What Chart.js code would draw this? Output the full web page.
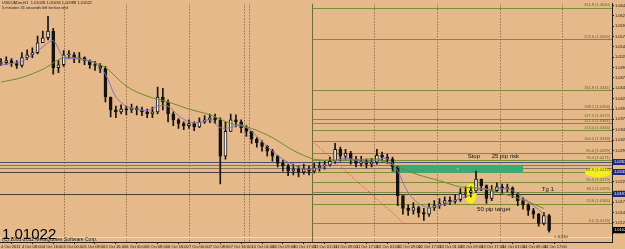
<!DOCTYPE html>
<html>
<head>
<meta charset="utf-8">
<script src="https://cdn.jsdelivr.net/npm/chart.js@4"></script>
<style>
  html, body { margin: 0; padding: 0; background: #e6b98a; }
  canvas { display: block; background: #e6b98a; }
</style>
</head>
<body>
<canvas id="chart" width="625" height="249"></canvas>
<script>
// USDCAD candles, one per 2 hours from 4 Oct 2011 00:00
const firstOpen = 1.0505;
const closes = [
  1.0507, 1.0512, 1.0505, 1.0500, 1.0519, 1.0526, 1.0531, 1.0555, 1.0567, 1.0583,
  1.0495, 1.0502, 1.0526, 1.0526, 1.0517, 1.0519, 1.0512, 1.0502, 1.0500, 1.0493,
  1.0424, 1.0393, 1.0388, 1.0395, 1.0393, 1.0398, 1.0393, 1.0388, 1.0383, 1.0388,
  1.0424, 1.0412, 1.0383, 1.0369, 1.0360, 1.0355, 1.0360, 1.0352, 1.0364, 1.0369,
  1.0374, 1.0369, 1.0281, 1.0341, 1.0369, 1.0364, 1.0350, 1.0341, 1.0322, 1.0314,
  1.0305, 1.0293, 1.0281, 1.0264, 1.0257, 1.0245, 1.0250, 1.0243, 1.0250, 1.0245,
  1.0253, 1.0257, 1.0260, 1.0269, 1.0298, 1.0281, 1.0288, 1.0274, 1.0264, 1.0269,
  1.0262, 1.0267, 1.0283, 1.0279, 1.0274, 1.0255, 1.0186, 1.0155, 1.0150, 1.0157,
  1.0145, 1.0141, 1.0157, 1.0162, 1.0167, 1.0174, 1.0172, 1.0176, 1.0191, 1.0193,
  1.0198, 1.0226, 1.0210, 1.0179, 1.0198, 1.0207, 1.0203, 1.0205, 1.0191, 1.0174,
  1.0164, 1.0150, 1.0141, 1.0119, 1.0138, 1.0102
];
const highs = [
  1.0517, 1.0521, 1.0517, 1.0512, 1.0531, 1.0538, 1.0543, 1.0571, 1.0583, 1.0619,
  1.0590, 1.0512, 1.0536, 1.0536, 1.0531, 1.0531, 1.0521, 1.0514, 1.0510, 1.0505,
  1.0498, 1.0424, 1.0402, 1.0405, 1.0402, 1.0407, 1.0402, 1.0400, 1.0395, 1.0400,
  1.0448, 1.0445, 1.0417, 1.0388, 1.0372, 1.0364, 1.0369, 1.0364, 1.0374, 1.0379,
  1.0383, 1.0383, 1.0374, 1.0364, 1.0383, 1.0381, 1.0369, 1.0355, 1.0341, 1.0326,
  1.0319, 1.0307, 1.0298, 1.0283, 1.0272, 1.0262, 1.0262, 1.0257, 1.0262, 1.0257,
  1.0264, 1.0267, 1.0269, 1.0279, 1.0312, 1.0303, 1.0298, 1.0293, 1.0281, 1.0281,
  1.0274, 1.0276, 1.0298, 1.0291, 1.0286, 1.0279, 1.0257, 1.0186, 1.0164, 1.0169,
  1.0160, 1.0155, 1.0167, 1.0174, 1.0179, 1.0183, 1.0183, 1.0188, 1.0203, 1.0207,
  1.0207, 1.0245, 1.0226, 1.0212, 1.0210, 1.0217, 1.0214, 1.0214, 1.0207, 1.0193,
  1.0181, 1.0167, 1.0155, 1.0143, 1.0145, 1.0141
];
const lows = [
  1.0500, 1.0502, 1.0498, 1.0493, 1.0496, 1.0514, 1.0519, 1.0528, 1.0555, 1.0562,
  1.0479, 1.0483, 1.0498, 1.0517, 1.0507, 1.0507, 1.0502, 1.0493, 1.0488, 1.0483,
  1.0412, 1.0376, 1.0374, 1.0383, 1.0381, 1.0386, 1.0381, 1.0379, 1.0374, 1.0374,
  1.0383, 1.0393, 1.0364, 1.0355, 1.0348, 1.0345, 1.0348, 1.0343, 1.0350, 1.0360,
  1.0362, 1.0360, 1.0214, 1.0274, 1.0341, 1.0352, 1.0338, 1.0329, 1.0312, 1.0303,
  1.0293, 1.0281, 1.0269, 1.0255, 1.0245, 1.0234, 1.0236, 1.0231, 1.0238, 1.0236,
  1.0241, 1.0245, 1.0250, 1.0257, 1.0264, 1.0269, 1.0274, 1.0262, 1.0255, 1.0257,
  1.0253, 1.0255, 1.0262, 1.0269, 1.0264, 1.0245, 1.0162, 1.0141, 1.0138, 1.0141,
  1.0134, 1.0126, 1.0136, 1.0150, 1.0155, 1.0162, 1.0164, 1.0167, 1.0172, 1.0181,
  1.0183, 1.0193, 1.0198, 1.0167, 1.0174, 1.0195, 1.0193, 1.0195, 1.0181, 1.0162,
  1.0153, 1.0138, 1.0131, 1.0112, 1.0115, 1.0098
];

const fastMA = [
  1.0502, 1.0505, 1.0510, 1.0526, 1.0545, 1.0560, 1.0519, 1.0517, 1.0514, 1.0507,
  1.0479, 1.0424, 1.0402, 1.0395, 1.0391, 1.0402, 1.0402, 1.0379, 1.0364, 1.0362,
  1.0369, 1.0350, 1.0350, 1.0357, 1.0341, 1.0317, 1.0293, 1.0274, 1.0260, 1.0250,
  1.0250, 1.0255, 1.0269, 1.0276, 1.0272, 1.0267, 1.0272, 1.0276, 1.0245, 1.0193,
  1.0167, 1.0157, 1.0162, 1.0169, 1.0179, 1.0188, 1.0203, 1.0200, 1.0203, 1.0198,
  1.0181, 1.0162, 1.0141
];
const slowMA = [
  1.0460, 1.0471, 1.0491, 1.0519, 1.0514, 1.0495, 1.0450, 1.0426, 1.0412, 1.0395,
  1.0381, 1.0360, 1.0348, 1.0326, 1.0295, 1.0274, 1.0272, 1.0272, 1.0274, 1.0255,
  1.0236, 1.0222, 1.0207, 1.0203, 1.0191, 1.0176, 1.0155
];

const timeBars = [0, 4, 8, 12, 16, 20, 24, 28, 32, 36, 40, 44, 48, 52, 56, 60, 64, 68, 72, 76, 80, 84, 88, 92, 96, 100, 104];
const timeLabels = [
  '4 Oct 2011', '4 Oct 08:00', '4 Oct 16:00', '5 Oct 00:00', '5 Oct 08:00', '5 Oct 16:00',
  '6 Oct 00:00', '6 Oct 08:00', '6 Oct 16:00', '7 Oct 00:00', '7 Oct 08:00', '7 Oct 16:00',
  '10 Oct 01:00', '10 Oct 09:00', '10 Oct 17:00', '11 Oct 01:00', '11 Oct 09:00', '11 Oct 17:00',
  '12 Oct 01:00', '12 Oct 09:00', '12 Oct 17:00', '13 Oct 01:00', '13 Oct 09:00', '13 Oct 17:00',
  '14 Oct 01:00', '14 Oct 09:00', '14 Oct 17:00'
];
const priceTicks = [
  1.0645, 1.0620, 1.0595, 1.0570, 1.0545, 1.0520, 1.0495, 1.0470, 1.0445, 1.0420, 1.0395, 1.0370,
  1.0345, 1.0320, 1.0295, 1.0270, 1.0245, 1.0220, 1.0195, 1.0170, 1.0145, 1.0120, 1.0095
];

const separatorBars = [12, 24, 36, 46.5, 47.5, 71.5, 83.5, 95.5, 107.5];
const hLinePrices = [1.0267, 1.0260, 1.0253, 1.0243, 1.0191, 1.0086];
const hLineColors = ['#4a5470', '#8a7560', '#8a7560', '#4e4038', '#4e4038', '#f2dcb8'];

const fibStartBar = 59.6;
const fibLevels = ['0.0', '23.6', '38.2', '50.0', '61.8', '76.4', '85.4', '100.0', '113.0', '121.4', '127.2', '138.2', '161.8', '223.6', '261.8'];
const fibPrices = [1.0119, 1.0166, 1.0195, 1.0219, 1.0242, 1.0271, 1.0289, 1.0318, 1.0344, 1.0361, 1.0372, 1.0394, 1.0441, 1.0564, 1.0640];
const fibTrendBars = [59.6, 77.2];
const fibTrendPrices = [1.0318, 1.0119];

const zoneBars = [75.1, 100];
const zonePrices = [1.0260, 1.0241];
const markBars = [90, 114.4];
const markPrices = [1.0191, 1.0242];

const noteTexts = ['Stop', '25 pip risk', 'Tg 1', '50 pip target', '< 0.010'];
const noteBars = [89.4, 94.0, 103.6, 91.2, 106.0];
const notePrices = [1.0280, 1.0280, 1.0202, 1.0152, 1.0087];

const axisMarkPrices = [1.0267, 1.0243, 1.0191];
const lastPrice = 1.0102;

const FONT = 'Liberation Sans, Arial, sans-serif';

const opens = closes.map((c, i) => i === 0 ? firstOpen : closes[i - 1]);
const wicks = closes.map((c, i) => ({ x: i, y: [lows[i], highs[i]] }));
const bodies = closes.map((c, i) => ({ x: i, y: [opens[i], c] }));
const bodyColors = closes.map((c, i) => c >= opens[i] ? '#f6efe4' : '#141414');

function line(ctx, x1, y1, x2, y2) {
  ctx.beginPath(); ctx.moveTo(x1, y1); ctx.lineTo(x2, y2); ctx.stroke();
}

const overlays = {
  id: 'overlays',
  beforeDatasetsDraw(chart) {
    const { ctx, chartArea: a, scales: { x, y } } = chart;
    ctx.save();
    ctx.beginPath(); ctx.rect(a.left, a.top, a.right - a.left, a.bottom - a.top); ctx.clip();
    ctx.lineWidth = 1;

    // period separators
    ctx.strokeStyle = '#6b4e2e';
    ctx.setLineDash([1, 2]);
    separatorBars.forEach(b => {
      const px = Math.round(x.getPixelForValue(b)) + 0.5;
      line(ctx, px, a.top, px, a.bottom);
    });
    ctx.setLineDash([]);

    // horizontal lines
    hLinePrices.forEach((p, k) => {
      const py = Math.round(y.getPixelForValue(p)) + 0.5;
      ctx.strokeStyle = hLineColors[k];
      line(ctx, a.left, py, a.right, py);
    });

    // fibonacci
    const fx = Math.round(x.getPixelForValue(fibStartBar)) + 0.5;
    ctx.strokeStyle = '#6e6a3a';
    line(ctx, fx, a.top, fx, a.bottom);
    ctx.strokeStyle = '#7f8c36';
    fibPrices.forEach(p => {
      const py = Math.round(y.getPixelForValue(p)) + 0.5;
      line(ctx, fx, py, a.right, py);
    });
    ctx.strokeStyle = '#e2573a';
    ctx.setLineDash([1.5, 1.5]);
    line(ctx, x.getPixelForValue(fibTrendBars[0]), y.getPixelForValue(fibTrendPrices[0]),
              x.getPixelForValue(fibTrendBars[1]), y.getPixelForValue(fibTrendPrices[1]));
    ctx.setLineDash([]);

    // risk zone
    const zx1 = x.getPixelForValue(zoneBars[0]), zx2 = x.getPixelForValue(zoneBars[1]);
    const zy1 = y.getPixelForValue(zonePrices[0]), zy2 = y.getPixelForValue(zonePrices[1]);
    ctx.fillStyle = '#3aa978';
    ctx.fillRect(zx1, zy1, zx2 - zx1, zy2 - zy1);
    ctx.fillStyle = '#ffffff';
    ctx.fillRect(x.getPixelForValue(87.4), (zy1 + zy2) / 2 - 0.5, 1, 1);

    // yellow marks
    ctx.fillStyle = '#f4ee1c';
    ctx.beginPath();
    ctx.ellipse(x.getPixelForValue(markBars[0]), y.getPixelForValue(markPrices[0]), 6, 10, 0, 0, Math.PI * 2);
    ctx.fill();
    ctx.beginPath();
    ctx.ellipse(x.getPixelForValue(markBars[1]), y.getPixelForValue(markPrices[1]), 13, 5, 0, 0, Math.PI * 2);
    ctx.fill();
    ctx.restore();
  },
  afterDatasetsDraw(chart) {
    const { ctx, chartArea: a, scales: { x, y } } = chart;
    ctx.save();
    // fib labels
    ctx.font = '4px ' + FONT;
    ctx.fillStyle = '#55691c';
    ctx.textAlign = 'right';
    ctx.textBaseline = 'bottom';
    fibPrices.forEach((p, k) => {
      ctx.fillText(fibLevels[k] + ' (' + p.toFixed(4) + ')', a.right - 2, y.getPixelForValue(p) - 0.5);
    });
    // notes
    ctx.fillStyle = '#111';
    ctx.textAlign = 'left';
    ctx.textBaseline = 'middle';
    noteTexts.forEach((t, k) => {
      ctx.font = (k === 4 ? '4px ' : '6px ') + FONT;
      ctx.fillText(t, x.getPixelForValue(noteBars[k]), y.getPixelForValue(notePrices[k]));
    });
    ctx.restore();
  },
  afterDraw(chart) {
    const { ctx, chartArea: a, scales: { y } } = chart;
    ctx.save();
    ctx.textBaseline = 'middle';
    ctx.textAlign = 'left';
    ctx.font = '4px ' + FONT;
    axisMarkPrices.forEach(p => {
      const py = Math.round(y.getPixelForValue(p));
      ctx.fillStyle = '#1c2a86';
      ctx.fillRect(a.right + 1, py - 3, 13, 6);
      ctx.fillStyle = '#fff';
      ctx.fillText(p.toFixed(4), a.right + 2, py);
    });
    const ly = Math.round(y.getPixelForValue(lastPrice));
    ctx.fillStyle = '#000';
    ctx.fillRect(a.right + 1, ly - 3, 13, 6);
    ctx.fillStyle = '#fff';
    ctx.fillText(lastPrice.toFixed(4), a.right + 2, ly);

    // header
    ctx.fillStyle = '#1a1a1a';
    ctx.textBaseline = 'top';
    ctx.fillText('USDCADm,H1  1.01028 1.01036 1.00988 1.01022', 2, 1);
    ctx.fillText('5 minutes 31 seconds left for bar end', 2, 6);
    // copyright + last price
    ctx.textBaseline = 'alphabetic';
    ctx.font = '5px ' + FONT;
    ctx.fillText('(C) 2001-2011 MetaQuotes Software Corp.', 2, 241);
    ctx.fillStyle = '#000';
    ctx.font = '15px ' + FONT;
    ctx.fillText('1.01022', 2, 239);
    ctx.restore();
  }
};

new Chart(document.getElementById('chart'), {
  type: 'bar',
  data: {
    datasets: [
      {
        type: 'line', data: fastMA.map((v, k) => ({ x: k * 2, y: v })),
        borderColor: '#8b70b6', borderWidth: 1, pointRadius: 0, tension: 0.3, order: 1
      },
      {
        type: 'line', data: slowMA.map((v, k) => ({ x: k * 4, y: v })),
        borderColor: '#6f8a2c', borderWidth: 1, pointRadius: 0, tension: 0.3, order: 1
      },
      {
        data: bodies, backgroundColor: bodyColors, borderColor: '#141414', borderWidth: 1,
        borderSkipped: false, barThickness: 3, minBarLength: 1, grouped: false, order: 2
      },
      {
        data: wicks, backgroundColor: '#141414', barThickness: 1, grouped: false, order: 3
      }
    ]
  },
  options: {
    responsive: false,
    animation: false,
    layout: { padding: 0 },
    plugins: { legend: { display: false }, tooltip: { enabled: false } },
    scales: {
      x: {
        type: 'linear', min: -0.2, max: 117.05, offset: false,
        afterBuildTicks: s => { s.ticks = timeBars.map(v => ({ value: v })); },
        afterFit: s => { s.height = 7; },
        ticks: {
          autoSkip: false, maxRotation: 0, minRotation: 0, align: 'start', padding: 0,
          color: '#111', font: { size: 4, family: FONT },
          callback: v => timeLabels[timeBars.indexOf(v)]
        },
        grid: { drawOnChartArea: false, tickLength: 2, color: '#222' },
        border: { display: true, color: '#222' }
      },
      y: {
        position: 'right', min: 1.0074, max: 1.0650,
        afterBuildTicks: s => { s.ticks = priceTicks.map(v => ({ value: v })); },
        afterFit: s => { s.width = 13; },
        ticks: {
          autoSkip: false, padding: 1, color: '#111', font: { size: 4, family: FONT },
          callback: v => v.toFixed(4)
        },
        grid: { drawOnChartArea: false, tickLength: 2, color: '#222' },
        border: { display: true, color: '#222' }
      }
    }
  },
  plugins: [overlays]
});
</script>
</body>
</html>
